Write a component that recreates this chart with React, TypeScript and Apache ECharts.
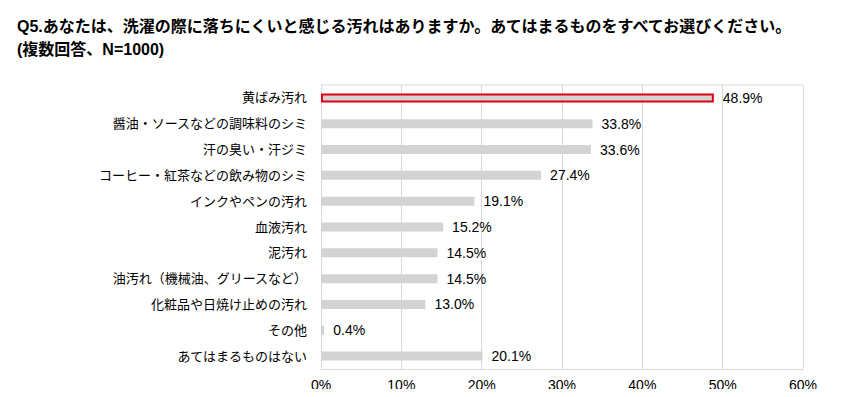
import React, { useEffect, useRef } from "react";
import * as echarts from "echarts";

const categories = [
  "黄ばみ汚れ",
  "醤油・ソースなどの調味料のシミ",
  "汗の臭い・汗ジミ",
  "コーヒー・紅茶などの飲み物のシミ",
  "インクやペンの汚れ",
  "血液汚れ",
  "泥汚れ",
  "油汚れ（機械油、グリースなど）",
  "化粧品や日焼け止めの汚れ",
  "その他",
  "あてはまるものはない",
];
const values = [48.9, 33.8, 33.6, 27.4, 19.1, 15.2, 14.5, 14.5, 13.0, 0.4, 20.1];
const titleLine1 = "Q5.あなたは、洗濯の際に落ちにくいと感じる汚れはありますか。あてはまるものをすべてお選びください。";
const titleLine2 = "(複数回答、N=1000)";

const FONT = "'Liberation Sans', Arial, 'Noto Sans CJK JP', sans-serif";

export default function App() {
  const ref = useRef<HTMLDivElement>(null);
  useEffect(() => {
    if (!ref.current) return;
    const chart = echarts.init(ref.current, null, { renderer: "svg" });
    chart.setOption({
      animation: false,
      backgroundColor: "#ffffff",
      title: {
        text: titleLine1 + "\n" + titleLine2,
        left: 12,
        top: 10,
        textStyle: {
          fontFamily: FONT,
          fontSize: 16,
          fontWeight: "bold",
          color: "#000",
          lineHeight: 23,
        },
      },
      grid: { left: 321, right: 43, top: 85, bottom: 28, containLabel: false },
      xAxis: {
        type: "value",
        min: 0,
        max: 60,
        interval: 10,
        axisLabel: {
          formatter: "{value}%",
          fontFamily: FONT,
          fontSize: 14,
          color: "#000",
          margin: 9,
        },
        axisLine: { show: true, lineStyle: { color: "#d9d9d9" } },
        axisTick: { show: false },
        splitLine: { show: true, lineStyle: { color: "#d9d9d9", width: 1 } },
      },
      yAxis: {
        type: "category",
        inverse: true,
        data: categories,
        axisLabel: {
          fontFamily: FONT,
          fontSize: 13,
          color: "#000",
          margin: 14,
        },
        axisLine: { show: true, lineStyle: { color: "#d9d9d9" } },
        axisTick: { show: false },
        splitLine: { show: false },
      },
      graphic: [
        {
          type: "line",
          shape: { x1: 321, y1: 85, x2: 803, y2: 85 },
          style: { stroke: "#d9d9d9", lineWidth: 1 },
          silent: true,
        },
      ],
      series: [
        {
          type: "bar",
          barWidth: 9,
          data: values.map((v, i) =>
            i === 0
              ? {
                  value: v,
                  itemStyle: { color: "#d3d3d3", borderColor: "#e00012", borderWidth: 2 },
                }
              : { value: v }
          ),
          itemStyle: { color: "#d3d3d3" },
          label: {
            show: true,
            position: "right",
            distance: 9,
            formatter: (p: any) => p.value.toFixed(1) + "%",
            fontFamily: FONT,
            fontSize: 14,
            color: "#000",
          },
        },
      ],
    });
    return () => chart.dispose();
  }, []);
  return <div ref={ref} style={{ width: 846, height: 397, margin: -8 }} />;
}
